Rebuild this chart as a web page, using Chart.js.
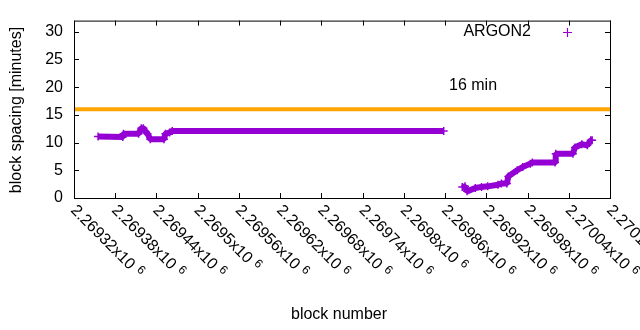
<!DOCTYPE html>
<html>
<head>
<meta charset="utf-8">
<script src="https://cdn.jsdelivr.net/npm/chart.js@4.4.0/dist/chart.umd.min.js"></script>
<style>
html, body { margin: 0; padding: 0; background: #fff; }
#wrap { width: 640px; height: 330px; }
</style>
</head>
<body>
<div id="wrap"><canvas id="spacing-chart"></canvas></div>
<script>
// block spacing per block (null = gap in the data)
const blocks = [
    2269355, 2269391, 2269392, 2269414, 2269418, 2269421, 2269424, 2269427,
    2269431, 2269451, 2269453, 2269459, 2269463, 2269858,
    2269870,
    2269885, 2269889, 2269892, 2269904, 2269913, 2269922, 2269937, 2269942,
    2269950, 2269952, 2269965, 2269973, 2269984, 2269987, 2270020, 2270021,
    2270046, 2270049, 2270059, 2270067, 2270072, 2270074
];
const spacing = [
    11.1, 11.0, 11.6, 11.6, 12.6, 12.6, 12.0, 11.6,
    10.6, 10.6, 11.6, 11.8, 12.1, 12.1,
    null,
    2.0, 2.1, 1.2, 1.8, 2.0, 2.1, 2.4, 2.6,
    2.6, 3.9, 5.0, 5.6, 6.2, 6.4, 6.4, 8.0,
    8.0, 9.1, 9.7, 9.5, 10.4, 10.4
];
const targetSpacing = 16;
const targetLabel = '16 min';
const seriesName = 'ARGON2';

const xTicks = [2269320, 2269380, 2269440, 2269500, 2269560, 2269620, 2269680,
                2269740, 2269800, 2269860, 2269920, 2269980, 2270040, 2270100];
const xTickLabels = ['2.26932', '2.26938', '2.26944', '2.2695', '2.26956', '2.26962', '2.26968',
                     '2.26974', '2.2698', '2.26986', '2.26992', '2.26998', '2.27004', '2.2701'];
const yTicks = [0, 5, 10, 15, 20, 25, 30];

const FONT = '"Liberation Sans", Arial, sans-serif';
const PURPLE = '#9400d3';
const ORANGE = '#ffa500';

// gnuplot-ish frame, inward ticks, rotated x labels, key and labels
const gnuplotDecor = {
    id: 'gnuplotDecor',
    afterDraw(chart) {
        const ctx = chart.ctx;
        const area = chart.chartArea;
        const xs = chart.scales.x;
        const ys = chart.scales.y;
        ctx.save();
        ctx.strokeStyle = '#000';
        ctx.lineWidth = 1;
        ctx.strokeRect(area.left + 0.5, area.top + 0.5, area.right - area.left, area.bottom - area.top);

        ctx.beginPath();
        xTicks.forEach(v => {
            const px = Math.round(xs.getPixelForValue(v)) + 0.5;
            ctx.moveTo(px, area.bottom); ctx.lineTo(px, area.bottom - 5);
            ctx.moveTo(px, area.top); ctx.lineTo(px, area.top + 5);
        });
        yTicks.forEach(v => {
            const py = Math.round(ys.getPixelForValue(v)) + 0.5;
            ctx.moveTo(area.left, py); ctx.lineTo(area.left + 5, py);
            ctx.moveTo(area.right, py); ctx.lineTo(area.right - 5, py);
        });
        ctx.stroke();

        // x tick labels, rotated -45 deg (clockwise), with superscript exponent
        ctx.fillStyle = '#000';
        xTicks.forEach((v, i) => {
            const px = xs.getPixelForValue(v);
            ctx.save();
            ctx.translate(px - 1, area.bottom + 10);
            ctx.rotate(Math.PI / 4);
            ctx.textAlign = 'left';
            ctx.textBaseline = 'middle';
            ctx.font = '16px ' + FONT;
            const txt = xTickLabels[i] + 'x10';
            ctx.fillText(txt, 0, 0);
            const w = ctx.measureText(txt).width;
            ctx.font = '12px ' + FONT;
            ctx.fillText('6', w + 5, -4);
            ctx.restore();
        });

        // key
        ctx.font = '16px ' + FONT;
        ctx.textAlign = 'right';
        ctx.textBaseline = 'middle';
        ctx.fillText(seriesName, 531, 32);
        ctx.strokeStyle = PURPLE;
        ctx.lineWidth = 1.2;
        ctx.beginPath();
        ctx.moveTo(563, 32.5); ctx.lineTo(572, 32.5);
        ctx.moveTo(567.5, 28); ctx.lineTo(567.5, 37);
        ctx.stroke();

        // target label
        ctx.textAlign = 'left';
        ctx.fillText(targetLabel, 449, 86);

        // axis titles
        ctx.textAlign = 'center';
        ctx.fillText('block number', 339, 315);
        ctx.save();
        ctx.translate(17, 110);
        ctx.rotate(-Math.PI / 2);
        ctx.fillText('block spacing [minutes]', 0, 0);
        ctx.restore();
        ctx.restore();
    }
};

const points = blocks.map((b, i) => ({ x: b, y: spacing[i] }));
const targetLine = [
    { x: xTicks[0], y: targetSpacing },
    { x: xTicks[xTicks.length - 1], y: targetSpacing }
];

new Chart(document.getElementById('spacing-chart').getContext('2d'), {
    type: 'scatter',
    data: {
        datasets: [{
            label: seriesName,
            data: points,
            showLine: true,
            spanGaps: false,
            borderColor: PURPLE,
            backgroundColor: PURPLE,
            borderWidth: 6,
            borderJoinStyle: 'bevel',
            borderCapStyle: 'butt',
            pointStyle: 'cross',
            pointRadius: 4,
            pointBorderWidth: 1.5,
            pointBorderColor: PURPLE,
            tension: 0
        }, {
            label: targetLabel,
            data: targetLine,
            showLine: true,
            borderColor: ORANGE,
            borderWidth: 4,
            pointRadius: 0
        }]
    },
    options: {
        responsive: true,
        maintainAspectRatio: false,
        animation: false,
        layout: { padding: { top: 19, right: 30, left: 0, bottom: 0 } },
        plugins: {
            legend: { display: false },
            tooltip: { enabled: false }
        },
        scales: {
            x: {
                type: 'linear',
                min: xTicks[0],
                max: xTicks[xTicks.length - 1],
                afterBuildTicks: s => { s.ticks = xTicks.map(v => ({ value: v })); },
                afterFit: s => { s.height = 132; },
                ticks: { display: false },
                grid: { display: false, drawTicks: false },
                border: { display: false }
            },
            y: {
                min: 0,
                max: 32,
                afterBuildTicks: s => { s.ticks = yTicks.map(v => ({ value: v })); },
                afterFit: s => { s.width = 74; },
                ticks: { color: '#000', font: { family: FONT, size: 16 }, padding: 11 },
                grid: { display: false, drawTicks: false },
                border: { display: false }
            }
        }
    },
    plugins: [gnuplotDecor]
});
</script>
</body>
</html>
